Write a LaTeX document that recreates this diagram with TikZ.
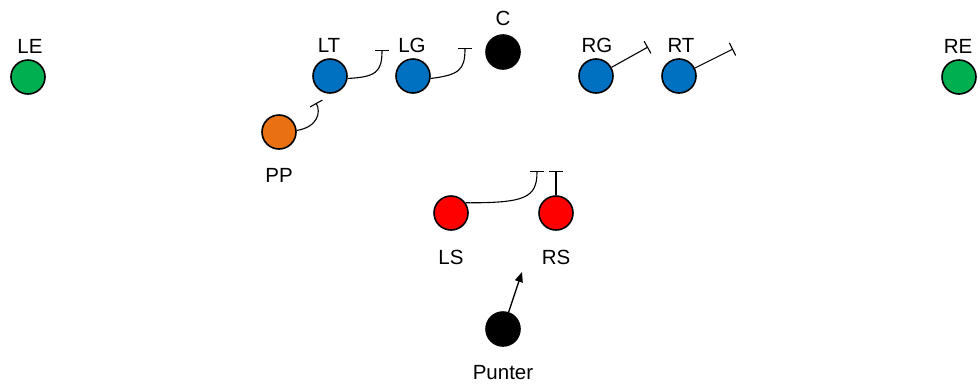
\documentclass[tikz,border=0pt]{standalone}
\usepackage{fontspec}
\setmainfont{Liberation Sans}
\usetikzlibrary{arrows.meta}
\definecolor{pblue}{RGB}{0,112,192}
\definecolor{pgreen}{RGB}{0,176,80}
\definecolor{porange}{RGB}{233,113,18}
\definecolor{pred}{RGB}{255,0,0}
\tikzset{
  player/.style={circle, draw=black, line width=1.6pt, minimum size=34pt, inner sep=0pt},
  lbl/.style={font=\fontsize{20.5}{24}\selectfont, inner sep=0pt},
  blockline/.style={line width=1.1pt, -{Bar[width=14pt,line width=1.1pt]}},
  route/.style={line width=1.4pt, -{Triangle[length=10pt,width=8pt]}}
}
\begin{document}
\begin{tikzpicture}[x=1pt,y=-1pt]
\useasboundingbox (0,0) rectangle (979,389);
% players
\node[player, fill=pgreen] (le) at (28,77) {};
\node[player, fill=pgreen] (re) at (959,77) {};
\node[player, fill=pblue] (lt) at (330,76) {};
\node[player, fill=pblue] (lg) at (413,76) {};
\node[player, fill=black] (c) at (503,52) {};
\node[player, fill=pblue] (rg) at (596,76) {};
\node[player, fill=pblue] (rt) at (679,76) {};
\node[player, fill=porange] (pp) at (279,132) {};
\node[player, fill=pred] (ls) at (451,213) {};
\node[player, fill=pred] (rs) at (556,213) {};
\node[player, fill=black] (pu) at (503,329) {};
% labels
\node[lbl] (lelbl) at (30,46) {LE};
\node[lbl] (relbl) at (958,46) {RE};
\node[lbl] (ltlbl) at (329,45) {LT};
\node[lbl] (lglbl) at (412,45) {LG};
\node[lbl] (clbl) at (503,18) {C};
\node[lbl] (rglbl) at (597,45) {RG};
\node[lbl] (rtlbl) at (681,45) {RT};
\node[lbl] (pplbl) at (279,175) {PP};
\node[lbl] (lslbl) at (451,257) {LS};
\node[lbl] (rslbl) at (556,257) {RS};
\node[lbl] (pulbl) at (503,373) {Punter};
% block ends
\coordinate (ltb) at (382,50);
\coordinate (lgb) at (465,48);
\coordinate (ppb) at (316,103);
\coordinate (rgb) at (648,47);
\coordinate (rtb) at (733,49);
\coordinate (lsb) at (537,171);
\coordinate (rsb) at (556,171);
\coordinate (pub) at (522,272);
% blocks
\draw[blockline] (lt.-8) .. controls (376,77) and (382,72) .. (ltb);
\draw[blockline] (lg.-8) .. controls (459,75) and (465,70) .. (lgb);
\draw[blockline] (pp.5) .. controls (318,127) and (321,112) .. (ppb);
\draw[blockline] (rg) -- (rgb);
\draw[blockline] (rt) -- (rtb);
\draw[blockline] (ls.35) .. controls (525,203) and (537,198) .. (lsb);
\draw[blockline] (rs) -- (rsb);
\draw[route] (pu) -- (pub);
\end{tikzpicture}
\end{document}
